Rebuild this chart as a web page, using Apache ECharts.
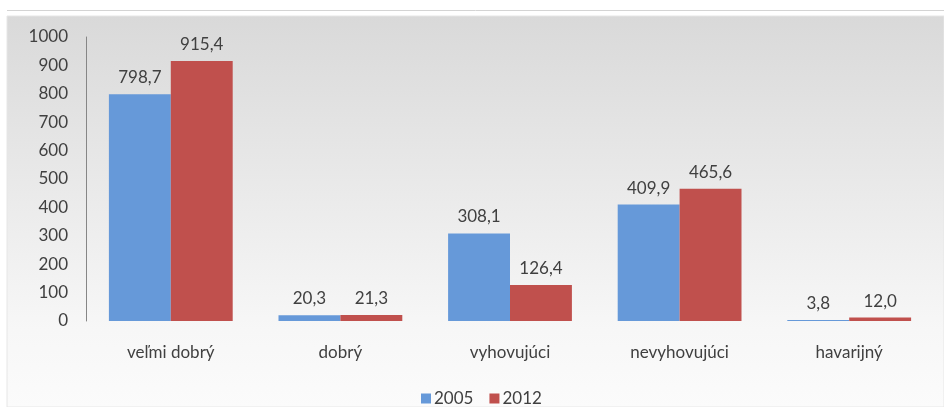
<!DOCTYPE html>
<html>
<head>
<meta charset="utf-8">
<script src="https://cdn.jsdelivr.net/npm/echarts@6/dist/echarts.min.js"></script>
<style>
  html, body { margin: 0; padding: 0; background: #ffffff; }
  #chart { width: 944px; height: 407px; }
</style>
</head>
<body>
<div id="chart"></div>
<script>
// Stav (hodnotenie) - porovnanie rokov 2005 a 2012
const categories = ['veľmi dobrý', 'dobrý', 'vyhovujúci', 'nevyhovujúci', 'havarijný'];
const values2005 = [798.7, 20.3, 308.1, 409.9, 3.8];
const values2012 = [915.4, 21.3, 126.4, 465.6, 12.0];
const seriesNames = ['2005', '2012'];
const yTicks = { min: 0, max: 1000, interval: 100 };

const FONT = 'Lato, "Open Sans", sans-serif';
const TEXT = '#404040';

const fmt = v => v.toFixed(1).replace('.', ',');

const chart = echarts.init(document.getElementById('chart'), null, { renderer: 'canvas' });

const barLabel = {
  show: true,
  position: 'top',
  distance: 8,
  color: TEXT,
  fontFamily: FONT,
  fontSize: 17,
  formatter: p => fmt(p.value)
};

chart.setOption({
  animation: false,
  backgroundColor: '#ffffff',
  graphic: [
    {
      type: 'line',
      shape: { x1: 7, y1: 10.5, x2: 944, y2: 10.5 },
      style: { stroke: '#d4d4d4', lineWidth: 1 },
      z: -10
    },
    {
      type: 'rect',
      shape: { x: 7, y: 16, width: 937, height: 391 },
      style: {
        fill: new echarts.graphic.LinearGradient(0, 0, 0, 1, [
          { offset: 0, color: '#d9d9d9' },
          { offset: 0.8, color: '#f7f7f7' },
          { offset: 1, color: '#fbfbfb' }
        ]),
        stroke: '#e6e6e6',
        lineWidth: 1
      },
      z: -10
    }
  ],
  grid: { left: 86, right: 10, top: 37, bottom: 86, containLabel: false },
  legend: {
    data: seriesNames,
    bottom: -5,
    left: 416,
    itemWidth: 10,
    itemHeight: 10,
    itemGap: 16,
    icon: 'rect',
    textStyle: { color: TEXT, fontFamily: FONT, fontSize: 17, padding: [0, 0, 0, -2] }
  },
  xAxis: {
    type: 'category',
    data: categories,
    axisLine: { show: false },
    axisTick: { show: false },
    axisLabel: { color: TEXT, fontFamily: FONT, fontSize: 17, margin: 23 }
  },
  yAxis: {
    type: 'value',
    min: yTicks.min,
    max: yTicks.max,
    interval: yTicks.interval,
    axisLine: { show: true, lineStyle: { color: '#868686', width: 1 } },
    axisTick: { show: false },
    splitLine: { show: false },
    axisLabel: {
      color: TEXT, fontFamily: FONT, fontSize: 17, margin: 18,
      formatter: v => String(v)
    }
  },
  series: [
    {
      name: seriesNames[0],
      type: 'bar',
      data: values2005,
      barGap: '0%',
      barCategoryGap: '27%',
      itemStyle: { color: '#6699d9' },
      label: barLabel
    },
    {
      name: seriesNames[1],
      type: 'bar',
      data: values2012,
      itemStyle: { color: '#c0504d' },
      label: barLabel
    }
  ]
});
</script>
</body>
</html>
